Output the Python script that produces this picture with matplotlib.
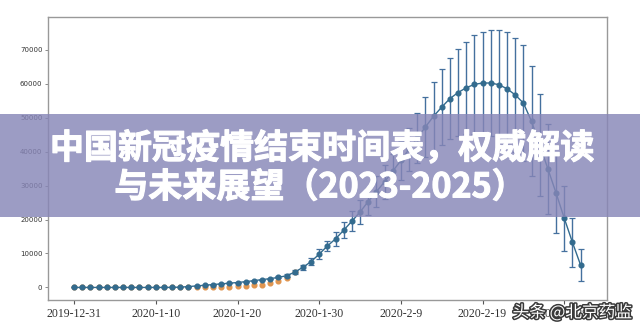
import numpy as np
import pandas as pd
import matplotlib
matplotlib.use("Agg")
import matplotlib.pyplot as plt
import matplotlib.patheffects as pe
from matplotlib.patches import Rectangle

START = "2019-12-31"

# model curve (blue), one value per day from 2019-12-31
model = [0, 0, 0, 0, 0, 0, 0, 0, 0, 0,
         0, 0, 20, 80, 250, 450, 650, 850, 1050, 1250,
         1450, 1700, 2000, 2300, 2600, 2950, 3450, 4500, 5900, 7600,
         9800, 12200, 14300, 16850, 19500, 22200, 25300, 28200, 31100, 34200,
         37400, 40700, 44000, 47250, 50400, 53100, 55600, 57400, 58800, 59800,
         60200, 60200, 59700, 58500, 56700, 54300, 48900, 42000, 34900, 27800,
         20400, 13300, 6600]

# spread of the model (error bars)
spread = [0, 0, 0, 0, 0, 0, 0, 0, 0, 0,
          0, 0, 0, 0, 0, 0, 0, 0, 0, 0,
          0, 0, 0, 0, 0, 300, 400, 600, 800, 1100,
          1400, 1600, 2000, 2400, 3000, 3500, 4000, 4500, 5000, 5200,
          5700, 6300, 7400, 8900, 10200, 11200, 12000, 12900, 13600, 14500,
          15000, 15600, 16000, 16600, 16900, 17000, 16200, 15100, 13300, 11700,
          9600, 7200, 4800]

# reported cumulative cases (orange)
reported = [27, 27, 27, 44, 44, 59, 59, 59, 59, 59,
            59, 41, 41, 41, 41, 41, 45, 62, 121, 198,
            291, 440, 571, 830, 1287, 1975, 2744, 4515]

tick_labels = ["2019-12-31", "2020-1-10", "2020-1-20", "2020-1-30",
               "2020-2-9", "2020-2-19", "2020-2-29"]
yticks = [0, 10000, 20000, 30000, 40000, 50000, 60000, 70000]

title_1 = "中国新冠疫情结束时间表，权威解读"
title_2 = "与未来展望（2023-2025）"
watermark = "头条 @北京药监"

days_model = pd.date_range(START, periods=len(model), freq="D")
days_rep = pd.date_range(START, periods=len(reported), freq="D")
tick_pos = pd.date_range(START, periods=len(tick_labels), freq="10D")

fig = plt.figure(figsize=(6.4, 3.32), dpi=100)
ax = fig.add_axes([0.075, 0.0964, 0.873, 0.853])

ax.plot(days_rep, reported, "o", color="#e0954f", markersize=3.4, zorder=2)
ax.errorbar(days_model, model, yerr=spread, fmt="-o", color="#336b8e",
            ecolor="#44709e", elinewidth=1.0, capsize=2.2, capthick=0.9,
            markersize=3.4, linewidth=1.0, zorder=3)

start = pd.Timestamp(START)
ax.set_xlim(start - pd.Timedelta(days=3.2), start + pd.Timedelta(days=65.2))
ax.set_ylim(-3700, 79700)

ax.set_xticks(tick_pos)
ax.set_xticklabels(tick_labels, family="Liberation Serif", fontsize=8.5,
                   color="#333333")
ax.set_yticks(yticks)
ax.set_yticklabels([str(v) for v in yticks], fontsize=5, color="#333333")
ax.tick_params(axis="x", length=3, width=0.8, color="#555555", pad=3)
ax.tick_params(axis="y", length=2, width=0.6, color="#777777", pad=2)
for s in ax.spines.values():
    s.set_color("#999999")
    s.set_linewidth(1.0)

# purple banner over the chart
band = Rectangle((0, 0.346), 1, 0.311, transform=fig.transFigure,
                 facecolor="#8786b7", alpha=0.82, edgecolor="none", zorder=5)
fig.add_artist(band)

fam = ["Noto Sans CJK SC", "DejaVu Sans"]
heavy = [pe.withStroke(linewidth=0.8, foreground="white")]
fig.text(0.503, 0.554, title_1, ha="center", va="center", fontsize=24.5,
         family=fam, weight="bold", color="white", zorder=6,
         path_effects=heavy)
fig.text(0.5, 0.437, title_2, ha="center", va="center", fontsize=24.5,
         family=fam, weight="bold", color="white", zorder=6,
         path_effects=heavy)

fig.text(0.894, 0.058, watermark, ha="center", va="center", fontsize=12,
         family=fam, color="white", zorder=6,
         path_effects=[pe.withStroke(linewidth=2.2, foreground="#3a3a3a")])

fig.savefig("out.png", dpi=100)
